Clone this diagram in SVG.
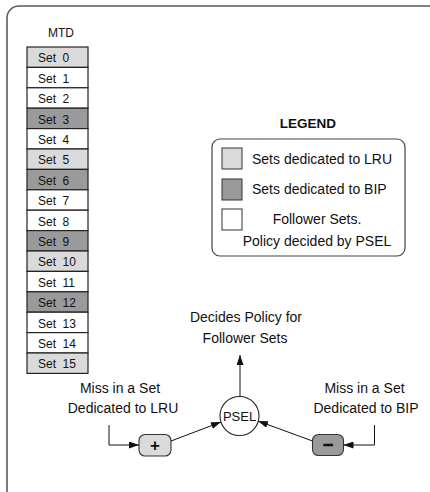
<svg xmlns="http://www.w3.org/2000/svg" width="430" height="492" viewBox="0 0 430 492">
<style>
text{font-family:"Liberation Sans",Arial,sans-serif;fill:#111;}
.frame{fill:none;stroke:#5a5a5a;stroke-width:1.6;}
.row{stroke:#222;stroke-width:1.2;}
.lru{fill:#dadada;}
.bip{fill:#9a9a9a;}
.fol{fill:#ffffff;}
.st{font-size:12px;}
.lbl{font-size:14px;text-anchor:middle;}
.lg{font-size:14px;}
.conn{fill:none;stroke:#111;stroke-width:1;}
.sw{stroke:#333;stroke-width:1;}
.op{stroke:#333;stroke-width:1.1;}
</style>
<defs>
<marker id="ah" markerUnits="userSpaceOnUse" markerWidth="10" markerHeight="7" refX="10" refY="3.5" orient="auto">
<path d="M0,0 L10,3.5 L0,7 z" fill="#111"/>
</marker>
</defs>
<path class="frame" d="M7,492 V18 A12,12 0 0 1 19,6 H430"/>
<g id="mtd">
<text x="61" y="37" class="st" text-anchor="middle">MTD</text>
<rect class="row lru" x="27" y="47" width="61" height="20.4"/><text class="st" x="38" y="62.3">Set <tspan x="62.5">0</tspan></text>
<rect class="row fol" x="27" y="67.4" width="61" height="20.4"/><text class="st" x="38" y="82.7">Set <tspan x="62.5">1</tspan></text>
<rect class="row fol" x="27" y="87.8" width="61" height="20.4"/><text class="st" x="38" y="103.1">Set <tspan x="62.5">2</tspan></text>
<rect class="row bip" x="27" y="108.2" width="61" height="20.4"/><text class="st" x="38" y="123.5">Set <tspan x="62.5">3</tspan></text>
<rect class="row fol" x="27" y="128.6" width="61" height="20.4"/><text class="st" x="38" y="143.9">Set <tspan x="62.5">4</tspan></text>
<rect class="row lru" x="27" y="149" width="61" height="20.4"/><text class="st" x="38" y="164.3">Set <tspan x="62.5">5</tspan></text>
<rect class="row bip" x="27" y="169.4" width="61" height="20.4"/><text class="st" x="38" y="184.7">Set <tspan x="62.5">6</tspan></text>
<rect class="row fol" x="27" y="189.8" width="61" height="20.4"/><text class="st" x="38" y="205.1">Set <tspan x="62.5">7</tspan></text>
<rect class="row fol" x="27" y="210.2" width="61" height="20.4"/><text class="st" x="38" y="225.5">Set <tspan x="62.5">8</tspan></text>
<rect class="row bip" x="27" y="230.6" width="61" height="20.4"/><text class="st" x="38" y="245.9">Set <tspan x="62.5">9</tspan></text>
<rect class="row lru" x="27" y="251" width="61" height="20.4"/><text class="st" x="38" y="266.3">Set <tspan x="62.5">10</tspan></text>
<rect class="row fol" x="27" y="271.4" width="61" height="20.4"/><text class="st" x="38" y="286.7">Set <tspan x="62.5">11</tspan></text>
<rect class="row bip" x="27" y="291.8" width="61" height="20.4"/><text class="st" x="38" y="307.1">Set <tspan x="62.5">12</tspan></text>
<rect class="row fol" x="27" y="312.2" width="61" height="20.4"/><text class="st" x="38" y="327.5">Set <tspan x="62.5">13</tspan></text>
<rect class="row fol" x="27" y="332.6" width="61" height="20.4"/><text class="st" x="38" y="347.9">Set <tspan x="62.5">14</tspan></text>
<rect class="row lru" x="27" y="353" width="61" height="20.4"/><text class="st" x="38" y="368.3">Set <tspan x="62.5">15</tspan></text>
</g>
<g id="legend">
<text x="308" y="128" font-size="13.5" font-weight="bold" text-anchor="middle">LEGEND</text>
<rect x="212" y="139" width="193" height="117" rx="8" fill="#fff" stroke="#444" stroke-width="1.2"/>
<rect class="sw lru" x="222" y="148" width="20" height="21"/>
<text class="lg" x="252" y="164">Sets dedicated to LRU</text>
<rect class="sw bip" x="222" y="179" width="20" height="21"/>
<text class="lg" x="252" y="194.3">Sets dedicated to BIP</text>
<rect class="sw fol" x="222" y="209" width="20" height="21"/>
<text class="lg" x="317" y="224" text-anchor="middle">Follower Sets.</text>
<text class="lg" x="317" y="245.7" text-anchor="middle">Policy decided by PSEL</text>
</g>
<g id="decides">
<text class="lbl" x="246" y="322">Decides Policy for</text>
<text class="lbl" x="245" y="343">Follower Sets</text>
</g>
<g id="psel">
<circle cx="239.5" cy="416" r="19.5" fill="#fff" stroke="#222" stroke-width="1.1"/>
<text x="239.5" y="420.5" font-size="13" text-anchor="middle">PSEL</text>
</g>
<g id="missLRU">
<text class="lbl" x="120" y="393.3">Miss in a Set</text>
<text class="lbl" x="123" y="413.3">Dedicated to LRU</text>
</g>
<g id="missBIP">
<text class="lbl" x="364.5" y="393.3">Miss in a Set</text>
<text class="lbl" x="366" y="413.3">Dedicated to BIP</text>
</g>
<g id="plus">
<rect class="op lru" x="139" y="434.5" width="32" height="21.5" rx="6"/>
<text x="155" y="451" font-size="17" font-weight="bold" text-anchor="middle">+</text>
</g>
<g id="minus">
<rect class="op bip" x="312.5" y="434.5" width="31" height="21" rx="6"/>
<text x="328" y="451" font-size="18" font-weight="bold" text-anchor="middle" stroke="#111" stroke-width="0.6">−</text>
</g>
<g id="connectors">
<path class="conn" d="M240,396.5 V355" marker-end="url(#ah)"/>
<path class="conn" d="M109,425 V445 H139" marker-end="url(#ah)"/>
<path class="conn" d="M374.5,425 V445 H343.5" marker-end="url(#ah)"/>
<path class="conn" d="M171,441 L221,422" marker-end="url(#ah)"/>
<path class="conn" d="M312.5,441 L258,421" marker-end="url(#ah)"/>
</g>
</svg>
